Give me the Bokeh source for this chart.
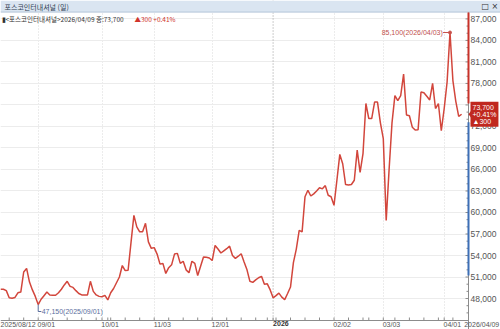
import pandas as pd
from bokeh.plotting import figure
from bokeh.models import (Range1d, FixedTicker, NumeralTickFormatter, Label, Span)
from bokeh.embed import file_html
from bokeh.resources import INLINE

# ---------------- data ----------------
stock_name = "포스코인터내셔널"
period_label = "(일)"
start_date = "2025-08-12"
end_date = "2026-04-09"
krx_holidays = ["2025-08-15", "2025-10-03", "2025-10-06", "2025-10-07", "2025-10-08",
                "2025-10-09", "2025-12-25", "2025-12-31", "2026-01-01", "2026-02-16",
                "2026-02-17", "2026-02-18", "2026-03-02"]
close_prices = [
    49300, 49300, 49100, 48100, 48050, 48150, 48800, 48900, 51700, 52200,
    50300, 49200, 48300, 47150, 47900, 48400, 48900, 48500, 48450, 48450,
    48800, 49300, 49900, 50400, 49700, 49550, 49100, 48700, 48500, 48500,
    48500, 50400, 49000, 48500, 48300, 48250, 48450, 47800, 48800, 49400,
    50200, 51000, 52600, 51900, 51950, 55800, 59600, 58000, 57300, 57300,
    58500, 55900, 55000, 55100, 54200, 52800, 52900, 51500, 52300, 52700,
    54200, 54300, 52900, 53200, 52000, 51600, 53200, 52900, 51200, 52500,
    53800, 53750, 53650, 53300, 55400, 54900, 54350, 54650, 54950, 55300,
    54000, 53600, 53900, 54250, 53100, 52000, 50400, 50250, 50600, 50900,
    51100, 50000, 50050, 49200, 48100, 48400, 48750, 48200, 47850, 48700,
    49600, 53000, 54900, 57500, 57300, 62200, 63100, 62300, 62600, 63000,
    63450, 63300, 63750, 62400, 62200, 61000, 64500, 68100, 66800, 63900,
    63850, 63900, 64500, 68700, 65600, 68200, 75200, 73100, 73100, 75400,
    75400, 72500, 70300, 58900, 66000, 72500, 76300, 75600, 76300, 79300,
    73600, 73500, 71900, 71500, 71550, 76800, 76700, 76200, 75700, 78000,
    74500, 75200, 71400, 74500, 78200, 85100, 78400, 75500, 73400, 73700,
]
last_change = 300
y_ticks = [48000, 51000, 54000, 57000, 60000, 63000, 66000, 69000, 72000, 75000,
           78000, 81000, 84000, 87000]
y_minor_ticks = list(range(46000, 89000, 1000))
axis_up_band = [75200, 87900]
axis_down_band = [51200, 72600]

# ---------------- derived ----------------
dates = pd.bdate_range(start_date, end_date)
dates = dates[~dates.isin(pd.to_datetime(krx_holidays))]
n = len(close_prices)
dates = dates[:n]
idx = list(range(n))
month_starts = [i for i in range(1, n) if dates[i].month != dates[i - 1].month]
year_starts = [i for i in month_starts if dates[i].year != dates[i - 1].year]
week_starts = [i for i in range(1, n)
               if dates[i].isocalendar()[1] != dates[i - 1].isocalendar()[1]]
last = close_prices[-1]
pct = last_change / (last - last_change) * 100
i_hi = close_prices.index(max(close_prices))
i_lo = close_prices.index(min(close_prices))

# ---------------- geometry helpers (pixel -> data) ----------------
FRAME_W, FRAME_H = 500, 329
PXI = 2.9                         # pixels per trading day
x_start = 0.0
x_end = x_start + FRAME_W / PXI
px_per_k = 7.17                   # pixels per 1,000 won
y_top = 87000 + 18.4 / px_per_k * 1000
y_bot = y_top - FRAME_H / px_per_k * 1000


def xd(px):
    return x_start + px / PXI


def yd(py):
    return y_top - py * 1000 / px_per_k


AX_X = 468    # pixel column of the price axis
AX_Y = 320    # pixel row of the date axis
BAND = 12     # height of the window title band

p = figure(frame_width=FRAME_W, frame_height=FRAME_H, output_backend="svg",
           toolbar_location=None, x_range=Range1d(x_start, x_end),
           y_range=Range1d(y_bot, y_top), y_axis_location="right", title=None,
           min_border=0)
p.outline_line_color = None
p.background_fill_color = "white"
p.border_fill_color = "white"

# ---- y axis (labels drawn back over the right strip) ----
ya = p.yaxis[0]
ya.ticker = FixedTicker(ticks=y_ticks)
ya.formatter = NumeralTickFormatter(format="0,0")
ya.major_tick_in = 0
ya.major_tick_out = 0
ya.minor_tick_in = 0
ya.minor_tick_out = 0
ya.axis_line_color = None
ya.major_label_text_font = "Liberation Sans"
ya.major_label_text_font_size = "8.5px"
ya.major_label_text_color = "#555555"
ya.major_label_standoff = -(FRAME_W - AX_X - 2)

# ---- x axis (labels drawn back over the bottom strip) ----
tick_pos = []
overrides = {}


def add_xlabel(pos_idx, lab):
    pos = round(pos_idx + len(lab) * 3.25 / 2 / PXI, 3)
    tick_pos.append(pos)
    overrides[pos] = lab


add_xlabel(0, dates[0].strftime("%Y/%m/%d"))
for i in month_starts:
    if i in year_starts:
        continue
    add_xlabel(i, dates[i].strftime("%m/%d"))
add_xlabel(xd(AX_X - 3), dates[-1].strftime("%Y/%m/%d"))

xa = p.xaxis[0]
xa.ticker = FixedTicker(ticks=tick_pos)
xa.major_label_overrides = overrides
xa.major_tick_in = 0
xa.major_tick_out = 0
xa.minor_tick_in = 0
xa.minor_tick_out = 0
xa.axis_line_color = None
xa.major_label_text_font = "Liberation Sans"
xa.major_label_text_font_size = "7px"
xa.major_label_text_color = "#555555"
xa.major_label_standoff = -(FRAME_H - AX_Y)

# ---- grids ----
p.xgrid[0].ticker = FixedTicker(ticks=[i for i in month_starts if i not in year_starts])
p.xgrid[0].grid_line_color = "#d9d9d9"
p.xgrid[0].grid_line_dash = "1 2"
p.ygrid[0].ticker = FixedTicker(ticks=y_ticks)
p.ygrid[0].grid_line_color = "#ececec"
for i in year_starts:
    p.add_layout(Span(location=i, dimension="height", line_color="#9a9a9a",
                      line_dash="1 2", line_width=1, level="underlay"))

# ---- white strips under the axes, title band ----
p.quad(left=xd(AX_X), right=x_end, bottom=y_bot, top=yd(BAND), fill_color="white",
       line_color=None)
p.quad(left=x_start, right=x_end, bottom=y_bot, top=yd(AX_Y), fill_color="white",
       line_color=None)
p.quad(left=x_start, right=x_end, bottom=yd(BAND), top=y_top, fill_color="#dae5f1",
       line_color=None)
p.line([x_start, x_end], [yd(BAND - 0.5)] * 2, line_color="#b9c8da", line_width=1)

# ---- axis lines and tick marks ----
p.line([xd(AX_X)] * 2, [yd(FRAME_H), yd(BAND)], line_color="#8c8c8c", line_width=1)
p.line([x_start, xd(AX_X)], [yd(AX_Y)] * 2, line_color="#8c8c8c", line_width=1)
p.segment(x0=[xd(AX_X - 3)] * len(y_ticks), x1=[xd(AX_X)] * len(y_ticks),
          y0=y_ticks, y1=y_ticks, line_color="#8c8c8c", line_width=1)
ymin = [v for v in y_minor_ticks if v not in y_ticks and yd(AX_Y) < v < yd(BAND)]
p.segment(x0=[xd(AX_X - 2)] * len(ymin), x1=[xd(AX_X)] * len(ymin),
          y0=ymin, y1=ymin, line_color="#8c8c8c", line_width=1)
xmin = sorted(set(week_starts + month_starts))
p.segment(x0=xmin, x1=xmin, y0=[yd(AX_Y)] * len(xmin), y1=[yd(AX_Y - 3)] * len(xmin),
          line_color="#8c8c8c", line_width=1)

# coloured price-range bars on the axis
p.line([xd(AX_X)] * 2, axis_up_band, line_color="#c8322a", line_width=2)
p.line([xd(AX_X)] * 2, axis_down_band, line_color="#3d6fb6", line_width=2)

# ---- price line ----
p.line(idx, close_prices, line_color="#d2463c", line_width=1.5)

# high annotation
p.line([i_hi - 2.4, i_hi], [close_prices[i_hi]] * 2, line_color="#c8504a", line_width=1)
p.scatter([i_hi], [close_prices[i_hi]], size=3, color="#c8504a")
p.add_layout(Label(x=i_hi - 2.5, y=close_prices[i_hi],
                   text=f"{close_prices[i_hi]:,}({dates[i_hi]:%Y/%m/%d})",
                   text_align="right", text_baseline="middle", text_font="Liberation Sans",
                   text_font_size="7px", text_color="#c0504d"))

# low annotation
lo = close_prices[i_lo]
p.line([i_lo, i_lo, i_lo + 1.1], [lo, yd(311), yd(311)], line_color="#5a6f9e", line_width=1)
p.add_layout(Label(x=i_lo + 1.2, y=yd(311),
                   text=f"{lo:,}({dates[i_lo]:%Y/%m/%d})",
                   text_align="left", text_baseline="middle", text_font="Liberation Sans",
                   text_font_size="7px", text_color="#5a6f9e"))

# current price box with pointer
notch = 4 * 1000 / px_per_k
p.patch([xd(AX_X), xd(AX_X + 3), xd(AX_X + 3)], [last, last + notch, last - notch],
        fill_color="#c0281f", line_color=None)
p.add_layout(Label(x=xd(AX_X + 2), y=last,
                   text=f"{last:,}\n+{pct:.2f}%\n▲{last_change:,}",
                   text_align="left", text_baseline="middle", text_font="Liberation Sans",
                   text_font_size="7px", text_color="white", text_line_height=1.0,
                   background_fill_color="#c0281f", padding=2))

# title band texts
p.add_layout(Label(x=xd(4), y=yd(6), text=f"{stock_name} {period_label}",
                   text_align="left", text_baseline="middle", text_font="Noto Sans CJK KR",
                   text_font_size="7px", text_color="#2f3d52"))
p.add_layout(Label(x=xd(481), y=yd(6), text="□ ×",
                   text_align="left", text_baseline="middle", text_font="DejaVu Sans",
                   text_font_size="8px", text_color="#333333"))

# header line
p.add_layout(Label(x=xd(1), y=yd(18.5),
                   text=f"▮<{stock_name}>{dates[-1]:%Y/%m/%d} 종:{last:,}",
                   text_align="left", text_baseline="middle", text_font="Noto Sans CJK KR",
                   text_font_size="6.5px", text_color="#333333"))
p.add_layout(Label(x=xd(134), y=yd(18.5), text=f"▲{last_change:,} +{pct:.2f}%",
                   text_align="left", text_baseline="middle", text_font="Noto Sans CJK KR",
                   text_font_size="6.5px", text_color="#d0342c"))

# bold year label on the date axis
for i in year_starts:
    p.add_layout(Label(x=i, y=yd(AX_Y), text=f"{dates[i].year}", text_align="left",
                       text_baseline="top", text_font="Liberation Sans",
                       text_font_size="7px", text_font_style="bold", text_color="#333333"))

open("out.html", "w").write(file_html(p, INLINE))
